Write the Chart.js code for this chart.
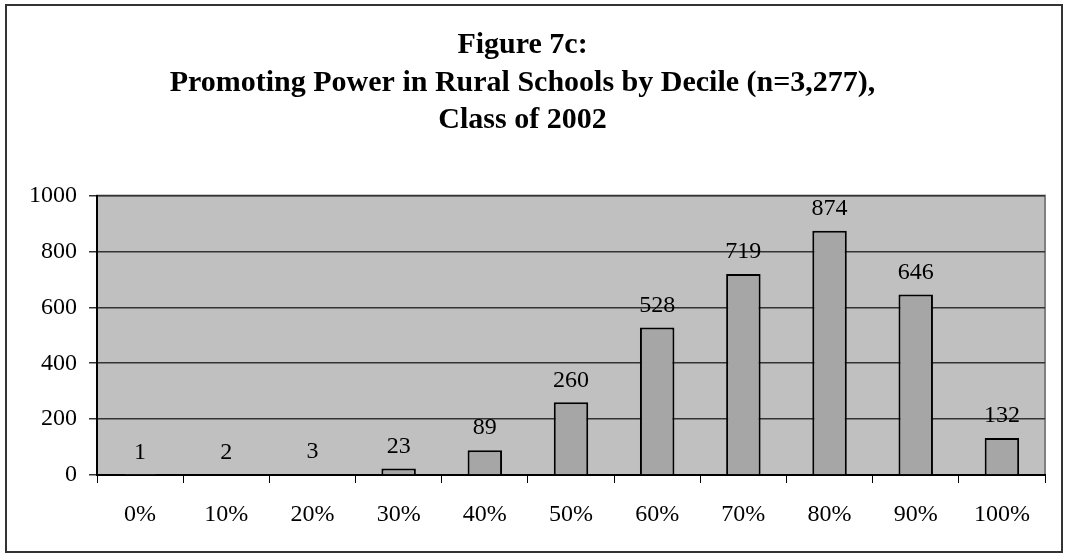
<!DOCTYPE html>
<html>
<head>
<meta charset="utf-8">
<script src="https://cdn.jsdelivr.net/npm/chart.js@4"></script>
<style>
  html, body { margin: 0; padding: 0; background: #fff; }
  #wrap { width: 1067px; height: 557px; position: relative; }
</style>
</head>
<body>
<div id="wrap"><canvas id="chart"></canvas></div>
<script>
// chart data
const deciles = ["0%", "10%", "20%", "30%", "40%", "50%", "60%", "70%", "80%", "90%", "100%"];
const schoolCounts = [1, 2, 3, 23, 89, 260, 528, 719, 874, 646, 132];
const titleLines = ["Figure 7c:", "Promoting Power in Rural Schools by Decile (n=3,277),", "Class of 2002"];

const serif = "'Liberation Serif', 'Times New Roman', serif";

// gray plot background + outer frame
const frame = {
  id: "frame",
  beforeDraw(chart) {
    const { ctx, chartArea: a } = chart;
    ctx.save();
    ctx.fillStyle = "#c0c0c0";
    ctx.fillRect(a.left, a.top, a.right - a.left, a.bottom - a.top);
    ctx.strokeStyle = "#808080";
    ctx.lineWidth = 2;
    ctx.strokeRect(a.left, a.top, a.right - a.left, a.bottom - a.top);
    ctx.strokeStyle = "#333";
    ctx.lineWidth = 2;
    ctx.strokeRect(6, 5, 1056, 547);
    ctx.restore();
  }
};

// value labels above the bars
const valueLabels = {
  id: "valueLabels",
  afterDatasetsDraw(chart) {
    const { ctx } = chart;
    const meta = chart.getDatasetMeta(0);
    ctx.save();
    ctx.font = "24px " + serif;
    ctx.fillStyle = "#000";
    ctx.textAlign = "center";
    ctx.textBaseline = "middle";
    meta.data.forEach((bar, i) => {
      ctx.fillText(schoolCounts[i], bar.x, bar.y - 22);
    });
    ctx.restore();
  }
};

new Chart(document.getElementById("chart"), {
  type: "bar",
  data: {
    labels: deciles,
    datasets: [{
      data: schoolCounts,
      backgroundColor: "#a6a6a6",
      borderColor: "#000",
      borderWidth: 2,
      borderSkipped: "bottom",
      barPercentage: 0.4,
      categoryPercentage: 1
    }]
  },
  options: {
    responsive: true,
    maintainAspectRatio: false,
    animation: false,
    layout: { padding: { left: 0, right: 22, top: 0, bottom: 0 } },
    plugins: {
      legend: { display: false },
      tooltip: { enabled: false },
      title: {
        display: true,
        text: titleLines,
        color: "#000",
        font: { family: serif, size: 30, weight: "bold", lineHeight: 1.24 },
        padding: { top: 27, bottom: 57 }
      }
    },
    scales: {
      x: {
        offset: true,
        grid: {
          offset: true,
          drawOnChartArea: false,
          color: "#000",
          tickLength: 8
        },
        border: { color: "#000", width: 2 },
        ticks: {
          color: "#000",
          font: { family: serif, size: 24 },
          padding: 17,
          maxRotation: 0
        },
        afterFit(scale) { scale.height = 82; }
      },
      y: {
        min: 0,
        max: 1000,
        ticks: {
          stepSize: 200,
          color: "#000",
          font: { family: serif, size: 24 },
          padding: 12,
          callback: (v) => String(v)
        },
        grid: {
          color: "#333",
          lineWidth: 1.5,
          tickLength: 8
        },
        border: { color: "#000", width: 2 },
        afterFit(scale) { scale.width = 97; }
      }
    }
  },
  plugins: [frame, valueLabels]
});
</script>
</body>
</html>
